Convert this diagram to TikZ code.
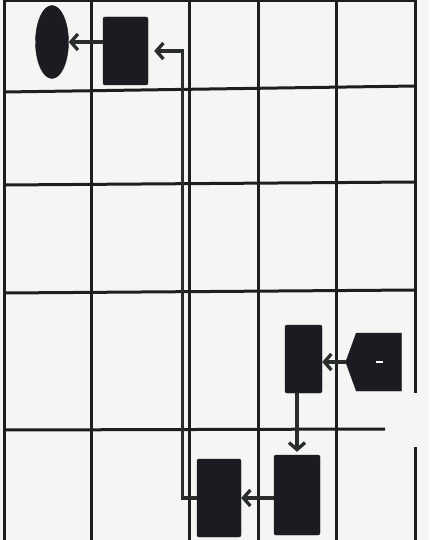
\documentclass[tikz,border=0pt]{standalone}
\usetikzlibrary{shapes.geometric,shapes.symbols,arrows.meta,calc}
\definecolor{paper}{HTML}{F5F5F3}
\definecolor{ink}{HTML}{1B1C22}
\definecolor{gridc}{HTML}{1E1E1E}
\definecolor{wire}{HTML}{2A2E2A}
\begin{document}
\begin{tikzpicture}[x=1pt,y=-1pt,
  gridline/.style={draw=gridc,line width=3pt},
  blockbox/.style={rectangle,fill=ink,draw=ink,rounded corners=2pt,inner sep=0pt},
  ovalbox/.style={ellipse,fill=ink,draw=ink,inner sep=0pt},
  pentbox/.style={signal,signal to=west,signal from=nowhere,signal pointer angle=140,fill=ink,draw=ink,inner sep=0pt,minimum width=56pt,minimum height=58pt},
  conn/.style={draw=wire,line width=3.3pt,-{Straight Barb[length=7pt,width=16pt]}}]
\useasboundingbox (0,0) rectangle (429,540);
\fill[paper] (0,0) rectangle (429,540);
% grid
\foreach \gx in {4,91,189,258,336}{\draw[gridline] (\gx,0) -- (\gx,540);}
\draw[gridline] (415,0) -- (415,393);
\draw[gridline] (415,447) -- (415,540);
\draw[gridline] (4,1) -- (415,1);
\draw[gridline] (4,92) -- (415,86);
\draw[gridline] (4,185) -- (415,182);
\draw[gridline] (4,293) -- (415,290);
\draw[gridline] (4,430) -- (385,429);
% nodes
\node[ovalbox,minimum width=33pt,minimum height=73pt] (el) at (52,42) {};
\node[blockbox,minimum width=45pt,minimum height=68pt] (tr) at (125.5,51) {};
\node[blockbox,minimum width=37pt,minimum height=68pt] (mr) at (303.5,359) {};
\node[pentbox] (pg) at (379,362) {};
\node[blockbox,minimum width=44pt,minimum height=78pt] (bl) at (219,498) {};
\node[blockbox,minimum width=46pt,minimum height=80pt] (br) at (297,495) {};
\draw[white,line width=2pt] ($(pg.center)+(-3,0)$) -- ($(pg.center)+(4,0)$);
% connectors
\draw[conn] (tr.west |- el.center) -- (el.east);
\draw[conn,shorten >=6pt] (bl.west) -- ++(-14,0) |- (tr.east);
\draw[conn] (br.west |- bl.center) -- (bl.east);
\draw[conn] (pg.west) -- (mr.east |- pg.west);
\draw[conn,shorten >=3pt] (br.north |- mr.south) -- (br.north);
\end{tikzpicture}
\end{document}
